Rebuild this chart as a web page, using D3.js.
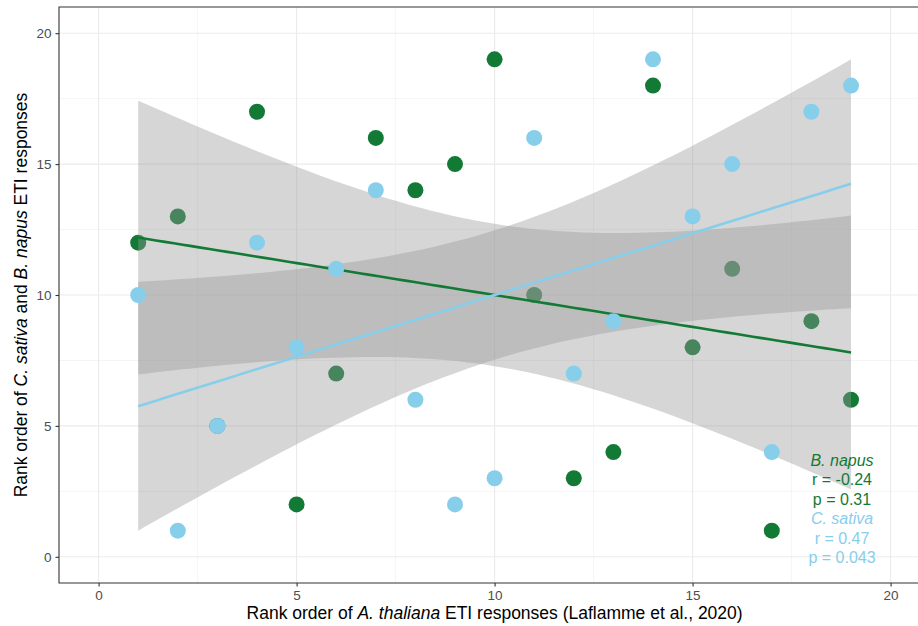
<!DOCTYPE html>
<html>
<head>
<meta charset="utf-8">
<script src="https://cdn.jsdelivr.net/npm/d3@7"></script>
<style>
  html, body { margin: 0; padding: 0; background: #fff; }
  svg { display: block; font-family: "Liberation Sans", Arial, sans-serif; }
</style>
</head>
<body>
<svg id="chart" width="918" height="626"></svg>
<script>
// Rank order of A. thaliana ETI responses (shared x for both species)
const athalianaRank = [1, 2, 3, 4, 5, 6, 7, 8, 9, 10, 11, 12, 13, 14, 15, 16, 17, 18, 19];
// Rank order of B. napus ETI responses
const napusRank = [12, 13, 5, 17, 2, 7, 16, 14, 15, 19, 10, 3, 4, 18, 8, 11, 1, 9, 6];
// Rank order of C. sativa ETI responses
const sativaRank = [10, 1, 5, 12, 8, 11, 14, 6, 2, 3, 16, 7, 9, 19, 13, 15, 4, 17, 18];

const xTicks = [0, 5, 10, 15, 20];
const yTicks = [0, 5, 10, 15, 20];
const napusStats = ["r = -0.24", "p = 0.31"];
const sativaStats = ["r = 0.47", "p = 0.043"];

const GREEN = "#127a35";
const BLUE = "#87ceeb";

const svg = d3.select("#chart");
const W = 918, H = 626;
const panel = { left: 59, top: 7, bottom: 583 };

const x = d3.scaleLinear().domain([-1, 21]).range([panel.left, panel.left + 22 * 39.6]);
const y = d3.scaleLinear().domain([-1, 21]).range([panel.bottom, panel.top]);

// Ordinary least squares fit with a 95% confidence band (t, df = n - 2)
function olsBand(xs, ys) {
  const n = xs.length;
  const mx = d3.mean(xs), my = d3.mean(ys);
  let sxx = 0, sxy = 0;
  for (let i = 0; i < n; i++) { sxx += (xs[i] - mx) ** 2; sxy += (xs[i] - mx) * (ys[i] - my); }
  const b = sxy / sxx, a = my - b * mx;
  let sse = 0;
  for (let i = 0; i < n; i++) sse += (ys[i] - (a + b * xs[i])) ** 2;
  const s = Math.sqrt(sse / (n - 2));
  const t = 2.109816; // qt(0.975, 17)
  const x0 = d3.min(xs), x1 = d3.max(xs);
  return d3.range(0, 81).map(k => {
    const xv = x0 + (x1 - x0) * k / 80;
    const fit = a + b * xv;
    const se = s * Math.sqrt(1 / n + (xv - mx) ** 2 / sxx);
    return { x: xv, fit, lo: fit - t * se, hi: fit + t * se };
  });
}

const napusFit = olsBand(athalianaRank, napusRank);
const sativaFit = olsBand(athalianaRank, sativaRank);

svg.append("defs").append("clipPath").attr("id", "panel-clip")
  .append("rect").attr("x", panel.left).attr("y", panel.top)
  .attr("width", W - panel.left).attr("height", panel.bottom - panel.top);

const plot = svg.append("g").attr("clip-path", "url(#panel-clip)");

// grid: minor then major
const minorTicks = [2.5, 7.5, 12.5, 17.5];
plot.append("g").selectAll("line").data(minorTicks).join("line")
  .attr("x1", d => x(d)).attr("x2", d => x(d)).attr("y1", panel.top).attr("y2", panel.bottom)
  .attr("stroke", "#ebebeb").attr("stroke-width", 0.55);
plot.append("g").selectAll("line").data(minorTicks).join("line")
  .attr("y1", d => y(d)).attr("y2", d => y(d)).attr("x1", panel.left).attr("x2", W)
  .attr("stroke", "#ebebeb").attr("stroke-width", 0.55);
plot.append("g").selectAll("line").data(xTicks).join("line")
  .attr("x1", d => x(d)).attr("x2", d => x(d)).attr("y1", panel.top).attr("y2", panel.bottom)
  .attr("stroke", "#ebebeb").attr("stroke-width", 1.1);
plot.append("g").selectAll("line").data(yTicks).join("line")
  .attr("y1", d => y(d)).attr("y2", d => y(d)).attr("x1", panel.left).attr("x2", W)
  .attr("stroke", "#ebebeb").attr("stroke-width", 1.1);

const rows = (ys) => athalianaRank.map((v, i) => ({ x: v, y: ys[i] }));

// B. napus points sit beneath the bands
plot.append("g").selectAll("circle").data(rows(napusRank)).join("circle")
  .attr("cx", d => x(d.x)).attr("cy", d => y(d.y)).attr("r", 8).attr("fill", GREEN);

const area = d3.area().x(d => x(d.x)).y0(d => y(d.lo)).y1(d => y(d.hi));
const line = d3.line().x(d => x(d.x)).y(d => y(d.fit));

[napusFit, sativaFit].forEach(f => {
  plot.append("path").datum(f).attr("d", area).attr("fill", "#999999").attr("fill-opacity", 0.4);
});
plot.append("path").datum(napusFit).attr("d", line).attr("fill", "none")
  .attr("stroke", GREEN).attr("stroke-width", 2.6);
plot.append("path").datum(sativaFit).attr("d", line).attr("fill", "none")
  .attr("stroke", BLUE).attr("stroke-width", 2.6);

// C. sativa points drawn on top
plot.append("g").selectAll("circle").data(rows(sativaRank)).join("circle")
  .attr("cx", d => x(d.x)).attr("cy", d => y(d.y)).attr("r", 8).attr("fill", BLUE);

// correlation annotation
const ann = svg.append("g").attr("font-size", 16).attr("text-anchor", "middle");
const annX = 842, annY0 = 460, step = 19.5;
const annLines = [
  { t: "B. napus", c: GREEN, it: true },
  { t: napusStats[0], c: GREEN },
  { t: napusStats[1], c: GREEN },
  { t: "C. sativa", c: BLUE, it: true },
  { t: sativaStats[0], c: BLUE },
  { t: sativaStats[1], c: BLUE }
];
ann.selectAll("text").data(annLines).join("text")
  .attr("x", annX).attr("y", (d, i) => annY0 + i * step).attr("dy", "0.35em")
  .attr("fill", d => d.c).attr("font-style", d => d.it ? "italic" : "normal").text(d => d.t);

// panel border (right edge runs off the canvas)
svg.append("path")
  .attr("d", `M${W + 2},${panel.top}H${panel.left}V${panel.bottom}H${W + 2}`)
  .attr("fill", "none").attr("stroke", "#333333").attr("stroke-width", 1.1);

// axes
const xAxis = svg.append("g").attr("transform", `translate(0,${panel.bottom})`)
  .call(d3.axisBottom(x).tickValues(xTicks).tickSize(3.5).tickPadding(4));
const yAxis = svg.append("g").attr("transform", `translate(${panel.left},0)`)
  .call(d3.axisLeft(y).tickValues(yTicks).tickSize(3.5).tickPadding(4));
[xAxis, yAxis].forEach(g => {
  g.select(".domain").remove();
  g.selectAll(".tick line").attr("stroke", "#333333").attr("stroke-width", 1.1);
  g.selectAll(".tick text").attr("fill", "#4d4d4d").attr("font-size", 13.5)
    .attr("font-family", "Liberation Sans, Arial, sans-serif");
});

// axis titles
const xt = svg.append("text").attr("x", x(10)).attr("y", 619)
  .attr("text-anchor", "middle").attr("font-size", 17.5).attr("fill", "#000");
xt.append("tspan").text("Rank order of ");
xt.append("tspan").attr("font-style", "italic").text("A. thaliana");
xt.append("tspan").text(" ETI responses (Laflamme et al., 2020)");

const yt = svg.append("text")
  .attr("transform", `translate(27,${(panel.top + panel.bottom) / 2}) rotate(-90)`)
  .attr("text-anchor", "middle").attr("font-size", 17.5).attr("fill", "#000");
yt.append("tspan").text("Rank order of ");
yt.append("tspan").attr("font-style", "italic").text("C. sativa");
yt.append("tspan").text(" and ");
yt.append("tspan").attr("font-style", "italic").text("B. napus");
yt.append("tspan").text(" ETI responses");
</script>
</body>
</html>
